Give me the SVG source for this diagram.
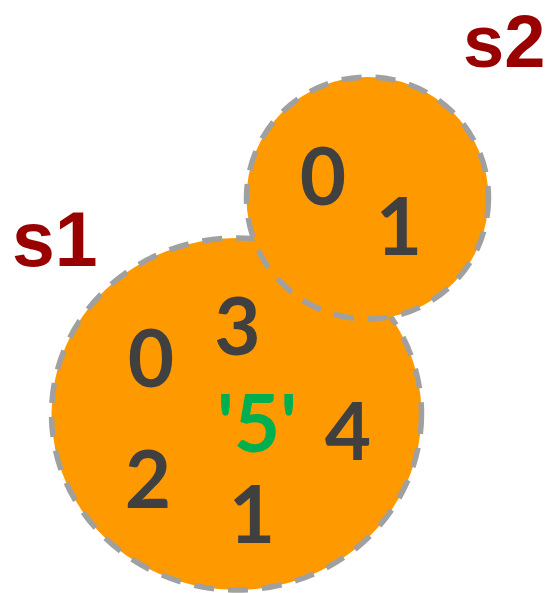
<svg xmlns="http://www.w3.org/2000/svg" width="551" height="593" viewBox="0 0 551 593">
<style>
.set{fill:#FF9900;stroke:#A0A0A0;stroke-width:5.5;stroke-dasharray:20 14}
.lbl{font-family:"Liberation Sans",Arial,sans-serif;font-weight:bold;font-size:77px;fill:#990000}
.d{font-family:Lato,"Open Sans",sans-serif;font-weight:bold;font-size:80px;fill:#404040;text-anchor:middle}
.g{fill:#00B050}
</style>
<rect width="551" height="593" fill="#FFFFFF"/>
<g id="s1">
<ellipse class="set" cx="236.5" cy="414" rx="185" ry="176"/>
<text class="lbl" x="12" y="266">s1</text>
<text class="d" x="151" y="387">0</text>
<text class="d" x="237.5" y="355">3</text>
<text class="d g" x="257" y="452">'5'</text>
<text class="d" x="348" y="460">4</text>
<text class="d" x="148" y="508">2</text>
<text class="d" x="252" y="543">1</text>
</g>
<g id="s2">
<circle class="set" cx="367.5" cy="198" r="121"/>
<text class="lbl" x="463" y="67" style="font-size:74px">s2</text>
<text class="d" x="323" y="205">0</text>
<text class="d" x="399" y="255">1</text>
</g>
</svg>
